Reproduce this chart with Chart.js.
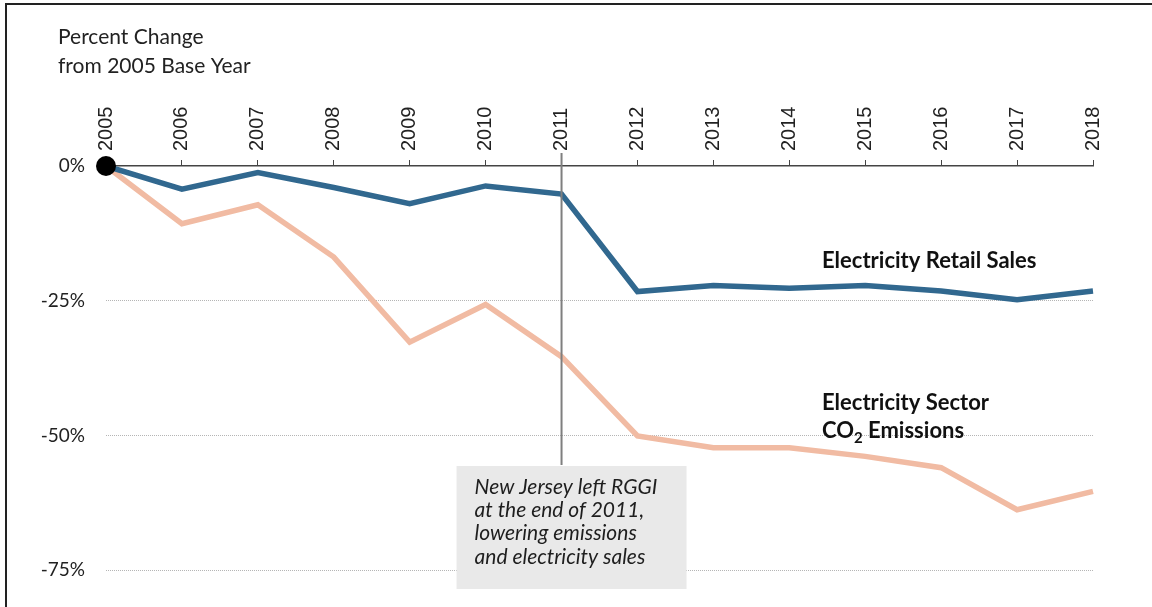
<!DOCTYPE html>
<html>
<head>
<meta charset="utf-8">
<script src="https://cdn.jsdelivr.net/npm/chart.js@4"></script>
<style>
  html, body { margin: 0; padding: 0; background: #fff; }
  #chart { display: block; }
</style>
</head>
<body>
<canvas id="chart" width="1152" height="607"></canvas>
<script>
const years = ['2005', '2006', '2007', '2008', '2009', '2010', '2011', '2012', '2013', '2014', '2015', '2016', '2017', '2018'];
const retailSales = [0, -4.3, -1.2, -4.0, -7.0, -3.7, -5.2, -23.3, -22.2, -22.7, -22.2, -23.2, -24.8, -23.2];
const co2Emissions = [0, -10.7, -7.2, -16.9, -32.7, -25.7, -35.4, -50.1, -52.3, -52.3, -53.9, -56.0, -63.8, -60.4];
const basePoint = [0];
const yTicks = [0, -25, -50, -75];
const noteLines = ['New Jersey left RGGI', 'at the end of 2011,', 'lowering emissions', 'and electricity sales'];

const BLUE = '#31688f';
const SALMON = '#f1bba3';

// frame, titles, 2011 marker and labels
const extras = {
    id: 'extras',
    beforeDraw(chart) {
        const c = chart.ctx;
        c.save();
        c.fillStyle = '#fff';
        c.fillRect(0, 0, chart.width, chart.height);
        c.strokeStyle = '#222';
        c.lineWidth = 2;
        c.beginPath();
        c.moveTo(6, chart.height);
        c.lineTo(6, 4);
        c.lineTo(chart.width, 4);
        c.stroke();

        c.fillStyle = '#222';
        c.font = '21px Lato';
        c.textBaseline = 'middle';
        c.fillText('Percent Change', 58, 37);
        c.fillText('from 2005 Base Year', 58, 66);
        c.restore();
    },
    afterDatasetsDraw(chart) {
        const c = chart.ctx;
        const x = chart.scales.x, y = chart.scales.y;
        const x2011 = x.getPixelForValue(6);
        const boxTop = y.getPixelForValue(-55.5);
        const boxLeft = x2011 - 105;
        c.save();
        // vertical marker
        c.strokeStyle = '#7f7f7f';
        c.lineWidth = 2;
        c.beginPath();
        c.moveTo(x2011, chart.chartArea.top - 13);
        c.lineTo(x2011, boxTop);
        c.stroke();
        // note box
        c.fillStyle = '#e9e9e9';
        c.fillRect(boxLeft, boxTop + 1, 230, 123);
        c.fillStyle = '#1e1e1e';
        c.font = 'italic 21px Lato';
        c.textBaseline = 'middle';
        noteLines.forEach((t, i) => c.fillText(t, boxLeft + 18, boxTop + 22 + i * 23.3));

        // series labels
        c.font = 'bold 22px Lato';
        c.fillStyle = '#111';
        const lx = 822;
        c.fillText('Electricity Retail Sales', lx, 261);
        c.fillText('Electricity Sector', lx, 403);
        c.fillText('CO', lx, 431);
        let w = c.measureText('CO').width;
        c.font = 'bold 15px Lato';
        c.fillText('2', lx + w, 438);
        w += c.measureText('2').width;
        c.font = 'bold 22px Lato';
        c.fillText(' Emissions', lx + w, 431);
        c.restore();
    }
};

new Chart(document.getElementById('chart'), {
    type: 'line',
    data: {
        labels: years,
        datasets: [
            {
                label: 'Base year',
                data: basePoint,
                showLine: false,
                clip: false,
                pointRadius: 10,
                pointBackgroundColor: '#000',
                pointBorderWidth: 0
            },
            {
                label: 'Electricity Retail Sales',
                data: retailSales,
                borderColor: BLUE,
                borderWidth: 5.5,
                pointRadius: 0,
                fill: false,
                tension: 0
            },
            {
                label: 'Electricity Sector CO2 Emissions',
                data: co2Emissions,
                borderColor: SALMON,
                borderWidth: 5.5,
                pointRadius: 0,
                fill: false,
                tension: 0
            }
        ]
    },
    options: {
        responsive: false,
        animation: false,
        devicePixelRatio: 1,
        layout: { padding: { left: 0, top: 0, right: 59, bottom: 9 } },
        scales: {
            x: {
                position: 'top',
                offset: false,
                afterFit: s => { s.height = 166; s.paddingLeft = 0; s.paddingRight = 0; },
                grid: { drawOnChartArea: false, drawTicks: true, tickLength: 6, color: '#444', lineWidth: 1 },
                border: { display: true, color: '#444', width: 1.5 },
                ticks: {
                    autoSkip: false,
                    minRotation: 90,
                    maxRotation: 90,
                    padding: 9,
                    labelOffset: 24,
                    color: '#222',
                    font: { family: 'Liberation Sans', size: 20 }
                }
            },
            y: {
                min: -80,
                max: 0,
                afterFit: s => { s.width = 106; s.paddingTop = 0; s.paddingBottom = 0; },
                afterBuildTicks: s => { s.ticks = yTicks.map(v => ({ value: v })); },
                grid: {
                    drawTicks: false,
                    color: ctx => ctx.tick && ctx.tick.value === 0 ? 'rgba(0,0,0,0)' : '#b5b5b5',
                    lineWidth: 1
                },
                border: { display: false, dash: [1, 1] },
                ticks: {
                    padding: 21,
                    color: '#222',
                    font: { family: 'Lato', size: 19 },
                    callback: v => v + '%'
                }
            }
        },
        plugins: {
            legend: { display: false },
            tooltip: { enabled: false }
        }
    },
    plugins: [extras]
});
</script>
</body>
</html>
